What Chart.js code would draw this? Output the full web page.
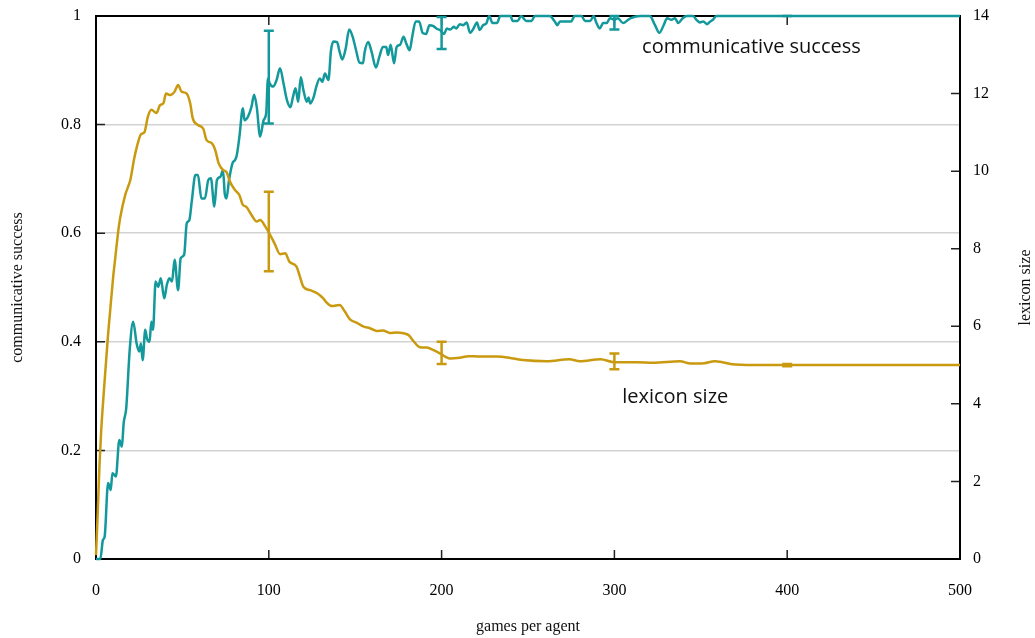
<!DOCTYPE html>
<html>
<head>
<meta charset="utf-8">
<script src="https://cdn.jsdelivr.net/npm/chart.js@4"></script>
<style>
  body { margin: 0; background: #fff; }
</style>
</head>
<body>
<canvas id="chart" width="1035" height="638"></canvas>
<script>
// --- data ---
const lexGames = [0, 1, 2, 3, 5, 7, 8, 10, 11, 13, 14, 17, 19, 20, 22, 23.5, 26, 28, 30, 32, 35, 37, 39, 40.5, 43, 45.5, 47.5, 49.5, 52.5, 54.5, 56, 59, 62, 64, 67, 69, 71, 73.5, 75.5, 77.5, 80.5, 83, 85, 87, 90, 93, 95, 98, 100.5, 103.5, 106.5, 109.5, 112, 116, 118, 120, 124, 128, 131.5, 133.5, 136.5, 141, 144, 147, 151, 155, 158.5, 162.5, 166, 170, 174, 178, 181, 183.5, 187.5, 191.5, 195, 199, 202, 205, 210.5, 215.5, 222, 232, 241.5, 247, 261, 274, 280, 292, 300, 313, 322.5, 338, 344, 352, 358, 362, 368, 380, 400, 500];
const lexSize = [0.1, 1.2, 2.4, 3.3, 4.6, 5.8, 6.3, 7.3, 7.7, 8.5, 8.8, 9.4, 9.65, 9.8, 10.3, 10.6, 10.95, 11.0, 11.4, 11.58, 11.5, 11.7, 11.75, 12.0, 11.96, 12.05, 12.22, 12.05, 12.0, 11.75, 11.36, 11.19, 11.1, 10.8, 10.72, 10.54, 10.2, 10.03, 9.98, 9.73, 9.51, 9.38, 9.13, 9.08, 8.87, 8.7, 8.74, 8.57, 8.38, 8.12, 7.86, 7.88, 7.66, 7.54, 7.28, 7.02, 6.93, 6.85, 6.72, 6.61, 6.52, 6.55, 6.38, 6.18, 6.09, 5.99, 5.95, 5.88, 5.89, 5.83, 5.84, 5.82, 5.77, 5.63, 5.46, 5.45, 5.39, 5.3, 5.22, 5.17, 5.19, 5.23, 5.22, 5.22, 5.17, 5.13, 5.1, 5.15, 5.1, 5.15, 5.07, 5.07, 5.06, 5.1, 5.04, 5.05, 5.1, 5.08, 5.02, 5.0, 5.0, 5.0];

const csGames = [0, 2.5, 4, 5, 7, 8.5, 9.5, 11.5, 13.5, 15, 16, 17.5, 19.5, 21.5, 23.5, 25, 26, 27, 28.5, 29.5, 31, 32, 33, 34.5, 36, 37.5, 39.5, 41, 42.5, 44, 45.5, 47.5, 49, 51, 52.5, 54, 55.5, 57.5, 59, 61, 63, 65, 66.5, 68.5, 70, 72, 73.5, 74.5, 75.5, 77, 79, 80.5, 81.5, 83, 85, 86, 88, 90, 91.5, 93, 95, 97, 98.5, 99.5, 100.5, 102.5, 104.5, 106.5, 108.5, 110.5, 112.5, 114, 115.5, 117, 118.5, 120, 122, 123, 124, 126, 127.5, 129.5, 131, 132.5, 134.5, 136, 137.5, 139.5, 141, 142.5, 144.5, 146.5, 148.5, 150.5, 152.5, 154.5, 155.5, 157.5, 159.5, 162, 164, 166, 168, 169, 170.5, 172.5, 174, 176, 178, 179.5, 181.5, 183, 185, 187, 189, 191, 193, 195, 197, 199.5, 201.5, 203, 205, 207, 208.5, 210.5, 212.5, 214.5, 216.5, 218.5, 220.5, 222, 224, 226, 227.5, 229.5, 232, 234, 240, 241, 244, 246, 249, 252, 254, 262.5, 265.5, 267, 268.5, 275, 277, 281, 283, 286, 288, 289.5, 291.5, 293.5, 295.5, 297.5, 300, 302, 305, 308, 309.5, 315, 320.5, 323.5, 326, 328.5, 330.5, 333, 335, 337, 339.5, 342, 345.5, 347.5, 349.5, 351.5, 353.5, 355.5, 357, 359, 500];
const csSuccess = [0, 0, 0.035, 0.041, 0.14, 0.127, 0.158, 0.152, 0.219, 0.207, 0.25, 0.278, 0.385, 0.437, 0.397, 0.382, 0.397, 0.366, 0.422, 0.406, 0.4, 0.437, 0.422, 0.511, 0.501, 0.517, 0.48, 0.505, 0.517, 0.511, 0.551, 0.495, 0.554, 0.56, 0.618, 0.624, 0.661, 0.707, 0.707, 0.664, 0.664, 0.698, 0.701, 0.649, 0.698, 0.704, 0.716, 0.673, 0.664, 0.698, 0.729, 0.735, 0.744, 0.778, 0.83, 0.808, 0.815, 0.833, 0.855, 0.833, 0.778, 0.808, 0.821, 0.885, 0.876, 0.87, 0.882, 0.904, 0.876, 0.845, 0.832, 0.851, 0.867, 0.842, 0.887, 0.864, 0.842, 0.85, 0.839, 0.851, 0.87, 0.885, 0.879, 0.894, 0.882, 0.937, 0.953, 0.952, 0.934, 0.92, 0.94, 0.975, 0.962, 0.937, 0.914, 0.913, 0.934, 0.952, 0.934, 0.905, 0.925, 0.943, 0.943, 0.928, 0.947, 0.913, 0.943, 0.947, 0.962, 0.95, 0.937, 0.962, 0.99, 0.99, 0.969, 0.967, 0.983, 0.982, 0.977, 0.973, 0.967, 0.977, 0.975, 0.98, 0.977, 0.985, 0.983, 0.988, 0.969, 0.977, 0.988, 0.974, 0.983, 0.987, 1.0, 0.987, 0.987, 1.0, 1.0, 0.991, 0.991, 1.0, 0.991, 0.991, 1.0, 1.0, 0.99, 0.983, 0.99, 0.99, 1.0, 1.0, 0.991, 0.991, 1.0, 0.988, 0.977, 0.987, 0.987, 0.996, 0.993, 0.996, 0.987, 0.993, 0.996, 1.0, 1.0, 0.983, 0.969, 0.983, 0.996, 0.993, 0.996, 0.987, 0.996, 1.0, 1.0, 0.993, 0.988, 0.99, 0.985, 0.99, 0.993, 1.0, 1.0];

// error bars
const errGames = [100, 200, 300, 400];
const csErrLow = [0.802, 0.939, 0.975, 1.0];
const csErrHigh = [0.973, 0.998, 1.0, 1.0];
const lexErrLow = [7.42, 5.03, 4.89, 4.97];
const lexErrHigh = [9.47, 5.6, 5.3, 5.03];

const xTicks = [0, 100, 200, 300, 400, 500];

const TEAL = '#13999b';
const GOLD = '#c99a0f';

function toPoints(xs, ys) {
    return xs.map((x, i) => ({ x: x, y: ys[i] }));
}

// draws the frame, inward ticks, error bars and the text labels
const gnuplotLook = {
    id: 'gnuplotLook',
    beforeDatasetsDraw(chart) {
        const ctx = chart.ctx;
        const a = chart.chartArea;
        const x = chart.scales.x, y = chart.scales.y, y2 = chart.scales.y2;
        ctx.save();
        ctx.strokeStyle = '#222';
        ctx.lineWidth = 1.5;
        // inward ticks
        ctx.beginPath();
        for (let v = 0; v <= 1.0001; v += 0.2) {
            const py = y.getPixelForValue(v);
            ctx.moveTo(a.left, py); ctx.lineTo(a.left + 9, py);
        }
        for (let v = 0; v <= 14; v += 2) {
            const py = y2.getPixelForValue(v);
            ctx.moveTo(a.right, py); ctx.lineTo(a.right - 9, py);
        }
        xTicks.forEach(v => {
            const px = x.getPixelForValue(v);
            ctx.moveTo(px, a.bottom); ctx.lineTo(px, a.bottom - 9);
            ctx.moveTo(px, a.top); ctx.lineTo(px, a.top + 9);
        });
        ctx.stroke();
        // frame
        ctx.strokeStyle = '#000';
        ctx.lineWidth = 2;
        ctx.strokeRect(a.left, a.top, a.right - a.left, a.bottom - a.top);
        ctx.restore();
    },
    afterDatasetsDraw(chart) {
        const ctx = chart.ctx;
        const x = chart.scales.x, y = chart.scales.y, y2 = chart.scales.y2;
        ctx.save();
        ctx.lineWidth = 2.5;
        function bar(scale, g, lo, hi, color) {
            const px = x.getPixelForValue(g);
            const p1 = scale.getPixelForValue(lo), p2 = scale.getPixelForValue(hi);
            ctx.strokeStyle = color;
            ctx.beginPath();
            ctx.moveTo(px, p1); ctx.lineTo(px, p2);
            ctx.moveTo(px - 5, p1); ctx.lineTo(px + 5, p1);
            ctx.moveTo(px - 5, p2); ctx.lineTo(px + 5, p2);
            ctx.stroke();
        }
        errGames.forEach((g, i) => {
            bar(y2, g, lexErrLow[i], lexErrHigh[i], GOLD);
            bar(y, g, csErrLow[i], csErrHigh[i], TEAL);
        });
        ctx.restore();
    },
    afterDraw(chart) {
        const ctx = chart.ctx;
        const a = chart.chartArea;
        const x = chart.scales.x, y = chart.scales.y;
        ctx.save();
        ctx.fillStyle = '#111';
        // series labels
        ctx.font = '20px "Open Sans"';
        ctx.textAlign = 'left';
        ctx.textBaseline = 'middle';
        ctx.fillText('communicative success', x.getPixelForValue(316), y.getPixelForValue(0.943));
        ctx.fillText('lexicon size', x.getPixelForValue(304.5), y.getPixelForValue(0.298));
        // axis titles
        ctx.font = '16px "Liberation Serif"';
        ctx.textAlign = 'center';
        ctx.fillText('games per agent', (a.left + a.right) / 2, 627);
        const midY = (a.top + a.bottom) / 2;
        ctx.translate(18, midY);
        ctx.rotate(-Math.PI / 2);
        ctx.fillText('communicative success', 0, 0);
        ctx.setTransform(1, 0, 0, 1, 0, 0);
        ctx.translate(1026, midY);
        ctx.rotate(-Math.PI / 2);
        ctx.fillText('lexicon size', 0, 0);
        ctx.restore();
    }
};

const tickFont = { family: 'Liberation Serif', size: 16 };

// fixed axis boxes so the plot area sits where it does in the picture
function fixY(w) {
    return s => { s.width = w; s.paddingTop = 0; s.paddingBottom = 0; };
}

new Chart(document.getElementById('chart').getContext('2d'), {
    type: 'line',
    data: {
        datasets: [
            {
                label: 'lexicon size',
                data: toPoints(lexGames, lexSize),
                yAxisID: 'y2',
                borderColor: GOLD,
                borderWidth: 2.5,
                borderJoinStyle: 'round',
                pointRadius: 0,
                cubicInterpolationMode: 'monotone',
                clip: false
            },
            {
                label: 'communicative success',
                data: toPoints(csGames, csSuccess),
                yAxisID: 'y',
                borderColor: TEAL,
                borderWidth: 2.5,
                borderJoinStyle: 'round',
                pointRadius: 0,
                cubicInterpolationMode: 'monotone',
                clip: false
            }
        ]
    },
    options: {
        responsive: false,
        animation: false,
        layout: { padding: { top: 16, left: 0, right: 0, bottom: 0 } },
        plugins: { legend: { display: false }, tooltip: { enabled: false } },
        scales: {
            x: {
                type: 'linear',
                min: 0,
                max: 500,
                ticks: { stepSize: 100, font: tickFont, color: '#000', padding: 22, maxRotation: 0 },
                grid: { display: false, drawTicks: false },
                border: { display: false },
                afterFit: s => { s.height = 79; s.paddingLeft = 0; s.paddingRight = 0; }
            },
            y: {
                position: 'left',
                min: 0,
                max: 1,
                ticks: {
                    stepSize: 0.2, font: tickFont, color: '#000', padding: 15,
                    callback: v => String(Number(v.toFixed(1)))
                },
                grid: {
                    drawTicks: false,
                    lineWidth: 1.5,
                    color: c => (c.tick && (c.tick.value === 0 || c.tick.value === 1)) ? 'rgba(0,0,0,0)' : '#d2d2d2'
                },
                border: { display: false },
                afterFit: fixY(96)
            },
            y2: {
                position: 'right',
                min: 0,
                max: 14,
                ticks: { stepSize: 2, font: tickFont, color: '#000', padding: 13 },
                grid: { display: false, drawTicks: false },
                border: { display: false },
                afterFit: fixY(75)
            }
        }
    },
    plugins: [gnuplotLook]
});
</script>
</body>
</html>
